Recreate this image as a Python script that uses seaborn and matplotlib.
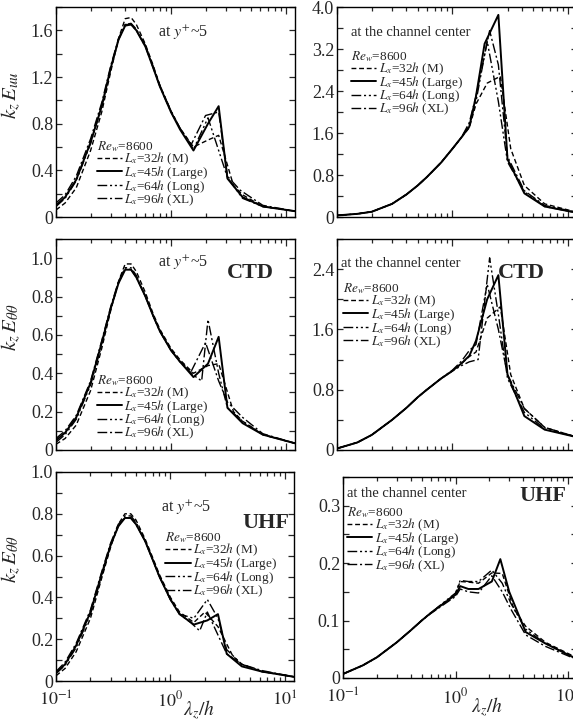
import numpy as np
import pandas as pd
import matplotlib
matplotlib.use("Agg")
import matplotlib.pyplot as plt
import seaborn as sns
from matplotlib.ticker import MultipleLocator, LogLocator, FuncFormatter, NullFormatter, FixedLocator, FixedFormatter

sns.set_theme(style="ticks")
plt.rcParams['font.family'] = ['Liberation Serif', 'DejaVu Serif']
plt.rcParams['mathtext.fontset'] = 'stix'

cases = ["M", "Large", "Long", "XL"]
case_labels = ["$L_x$=32$h$ (M)", "$L_x$=45$h$ (Large)", "$L_x$=64$h$ (Long)", "$L_x$=96$h$ (XL)"]
legend_title = "$Re_w$=8600"

# ---------------- Euu at y+~5 ----------------
euu_w_x_M = [0.1,0.12,0.15,0.2,0.25,0.3,0.35,0.4,0.45,0.5,0.6,0.7,0.8,1.0,1.2,1.57,2.1,2.6,3.5,4.2,6.3,12]
euu_w_y_M = [0.06,0.12,0.25,0.57,0.90,1.25,1.53,1.70,1.71,1.65,1.48,1.30,1.13,0.91,0.76,0.60,0.66,0.70,0.27,0.19,0.09,0.05]
euu_w_x_Large = [0.1,0.12,0.15,0.2,0.25,0.3,0.35,0.4,0.45,0.5,0.6,0.7,0.8,1.0,1.2,1.57,2.1,2.6,3.1,4.2,6.3,12]
euu_w_y_Large = [0.10,0.17,0.32,0.64,0.95,1.28,1.52,1.64,1.65,1.60,1.46,1.28,1.12,0.90,0.75,0.57,0.80,0.95,0.33,0.17,0.09,0.05]
euu_w_x_Long = [0.1,0.12,0.15,0.2,0.25,0.3,0.35,0.4,0.45,0.5,0.6,0.7,0.8,1.0,1.2,1.57,2.1,3.1,4.2,6.3,12]
euu_w_y_Long = [0.09,0.16,0.31,0.63,0.95,1.28,1.52,1.65,1.66,1.61,1.47,1.29,1.13,0.91,0.76,0.58,0.85,0.34,0.16,0.09,0.05]
euu_w_x_XL = [0.1,0.12,0.15,0.2,0.25,0.3,0.35,0.4,0.45,0.5,0.6,0.7,0.8,1.0,1.2,1.5,2.0,2.6,3.1,4.0,6.3,12]
euu_w_y_XL = [0.12,0.19,0.35,0.67,0.98,1.30,1.53,1.65,1.65,1.60,1.46,1.28,1.12,0.90,0.76,0.62,0.87,0.90,0.35,0.23,0.10,0.05]

# ---------------- Euu at channel center ----------------
euu_c_x_M = [0.1,0.15,0.2,0.3,0.4,0.5,0.6,0.8,1.0,1.2,1.4,1.6,2.0,2.6,3.2,4.2,6.3,12]
euu_c_y_M = [0.03,0.06,0.10,0.25,0.43,0.60,0.76,1.04,1.30,1.52,1.70,2.15,2.55,2.68,1.30,0.60,0.25,0.09]
euu_c_x_Large = [0.1,0.15,0.2,0.3,0.4,0.5,0.6,0.8,1.0,1.2,1.4,1.6,1.9,2.5,3.0,4.2,6.3,12]
euu_c_y_Large = [0.03,0.06,0.10,0.25,0.43,0.60,0.76,1.04,1.30,1.52,1.72,2.30,3.30,3.85,1.10,0.45,0.20,0.08]
euu_c_x_Long = [0.1,0.15,0.2,0.3,0.4,0.5,0.6,0.8,1.0,1.2,1.4,1.6,2.0,2.5,3.0,4.2,6.3,12]
euu_c_y_Long = [0.03,0.06,0.10,0.25,0.43,0.60,0.76,1.04,1.30,1.52,1.75,2.20,3.35,2.20,1.05,0.48,0.20,0.08]
euu_c_x_XL = [0.1,0.15,0.2,0.3,0.4,0.5,0.6,0.8,1.0,1.2,1.4,1.6,2.1,2.5,3.0,4.2,6.3,12]
euu_c_y_XL = [0.03,0.06,0.10,0.25,0.43,0.60,0.76,1.04,1.30,1.52,1.80,2.30,3.55,2.90,1.15,0.50,0.22,0.09]

# ---------------- Ett CTD at y+~5 ----------------
ctd_w_x_M = [0.1,0.12,0.15,0.2,0.25,0.3,0.35,0.4,0.45,0.5,0.6,0.7,0.8,1.0,1.2,1.57,2.1,2.6,3.5,4.2,6.3,12]
ctd_w_y_M = [0.03,0.06,0.13,0.31,0.53,0.73,0.88,0.97,0.97,0.93,0.82,0.71,0.63,0.53,0.47,0.40,0.44,0.45,0.20,0.15,0.08,0.035]
ctd_w_x_Large = [0.1,0.12,0.15,0.2,0.25,0.3,0.35,0.4,0.45,0.5,0.6,0.7,0.8,1.0,1.2,1.57,2.1,2.6,3.1,4.2,6.3,12]
ctd_w_y_Large = [0.05,0.09,0.17,0.35,0.56,0.74,0.87,0.94,0.94,0.90,0.80,0.70,0.62,0.52,0.46,0.38,0.45,0.59,0.22,0.14,0.08,0.035]
ctd_w_x_Long = [0.1,0.12,0.15,0.2,0.25,0.3,0.35,0.4,0.45,0.5,0.6,0.7,0.8,1.0,1.2,1.57,1.85,2.1,2.6,3.1,4.2,6.3,12]
ctd_w_y_Long = [0.04,0.08,0.16,0.34,0.55,0.74,0.87,0.95,0.95,0.91,0.80,0.70,0.62,0.52,0.46,0.39,0.36,0.68,0.40,0.22,0.15,0.08,0.035]
ctd_w_x_XL = [0.1,0.12,0.15,0.2,0.25,0.3,0.35,0.4,0.45,0.5,0.6,0.7,0.8,1.0,1.2,1.5,2.0,2.6,3.1,4.2,6.3,12]
ctd_w_y_XL = [0.06,0.10,0.18,0.36,0.57,0.75,0.88,0.95,0.94,0.90,0.80,0.70,0.62,0.52,0.46,0.41,0.56,0.36,0.25,0.17,0.085,0.035]

# ---------------- Ett CTD at channel center ----------------
ctd_c_x_M = [0.1,0.15,0.2,0.3,0.4,0.5,0.6,0.8,1.0,1.2,1.4,1.6,2.0,2.6,3.2,4.2,6.3,12]
ctd_c_y_M = [0.02,0.10,0.20,0.40,0.56,0.70,0.80,0.95,1.05,1.15,1.24,1.30,1.75,1.90,1.00,0.55,0.30,0.17]
ctd_c_x_Large = [0.1,0.15,0.2,0.3,0.4,0.5,0.6,0.8,1.0,1.2,1.4,1.6,2.0,2.5,3.0,4.2,6.3,12]
ctd_c_y_Large = [0.02,0.10,0.20,0.40,0.56,0.70,0.80,0.95,1.05,1.15,1.25,1.45,2.00,2.32,1.00,0.45,0.27,0.17]
ctd_c_x_Long = [0.1,0.15,0.2,0.3,0.4,0.5,0.6,0.8,1.0,1.2,1.4,1.67,2.1,2.5,3.0,4.2,6.3,12]
ctd_c_y_Long = [0.02,0.10,0.20,0.40,0.56,0.70,0.80,0.95,1.05,1.12,1.17,1.20,2.55,1.80,0.95,0.50,0.28,0.17]
ctd_c_x_XL = [0.1,0.15,0.2,0.3,0.4,0.5,0.6,0.8,1.0,1.2,1.4,1.6,2.0,2.5,3.0,4.2,6.3,12]
ctd_c_y_XL = [0.02,0.10,0.20,0.40,0.56,0.70,0.80,0.95,1.06,1.18,1.32,1.40,2.20,1.60,1.00,0.55,0.30,0.17]

# ---------------- Ett UHF at y+~5 ----------------
uhf_w_x_M = [0.1,0.12,0.15,0.2,0.25,0.3,0.35,0.4,0.45,0.5,0.6,0.7,0.8,1.0,1.2,1.6,2.0,2.6,3.5,4.2,6.3,12]
uhf_w_y_M = [0.025,0.06,0.14,0.30,0.49,0.64,0.75,0.80,0.80,0.77,0.68,0.59,0.51,0.40,0.33,0.28,0.33,0.26,0.12,0.08,0.045,0.02]
uhf_w_x_Large = [0.1,0.12,0.15,0.2,0.25,0.3,0.35,0.4,0.45,0.5,0.6,0.7,0.8,1.0,1.2,1.6,2.1,2.6,3.1,4.2,6.3,12]
uhf_w_y_Large = [0.04,0.08,0.17,0.33,0.51,0.65,0.74,0.78,0.78,0.75,0.67,0.58,0.50,0.39,0.32,0.27,0.29,0.32,0.13,0.07,0.045,0.02]
uhf_w_x_Long = [0.1,0.12,0.15,0.2,0.25,0.3,0.35,0.4,0.45,0.5,0.6,0.7,0.8,1.0,1.2,1.6,2.1,2.6,3.1,4.2,6.3,12]
uhf_w_y_Long = [0.035,0.075,0.16,0.32,0.50,0.65,0.74,0.79,0.79,0.76,0.67,0.58,0.50,0.39,0.32,0.30,0.39,0.30,0.15,0.08,0.045,0.02]
uhf_w_x_XL = [0.1,0.12,0.15,0.2,0.25,0.3,0.35,0.4,0.45,0.5,0.6,0.7,0.8,1.0,1.2,1.5,1.8,2.1,2.6,3.1,4.2,6.3,12]
uhf_w_y_XL = [0.045,0.09,0.18,0.34,0.52,0.66,0.75,0.78,0.78,0.75,0.67,0.58,0.50,0.39,0.32,0.28,0.24,0.33,0.22,0.13,0.08,0.05,0.02]

# ---------------- Ett UHF at channel center ----------------
uhf_c_x_M = [0.1,0.15,0.2,0.3,0.4,0.5,0.6,0.8,1.0,1.1,1.3,1.6,2.1,2.6,3.3,4.2,6.3,12]
uhf_c_y_M = [0.007,0.022,0.036,0.062,0.083,0.100,0.113,0.132,0.147,0.168,0.167,0.165,0.183,0.182,0.120,0.090,0.062,0.035]
uhf_c_x_Large = [0.1,0.15,0.2,0.3,0.4,0.5,0.6,0.8,1.0,1.1,1.3,1.6,2.1,2.5,3.0,4.2,6.3,12]
uhf_c_y_Large = [0.007,0.022,0.036,0.062,0.083,0.100,0.113,0.131,0.145,0.160,0.155,0.155,0.168,0.207,0.150,0.080,0.060,0.033]
uhf_c_x_Long = [0.1,0.15,0.2,0.3,0.4,0.5,0.6,0.8,1.0,1.1,1.3,1.6,2.1,2.6,3.1,4.2,6.3,12]
uhf_c_y_Long = [0.007,0.022,0.036,0.062,0.083,0.100,0.113,0.133,0.148,0.170,0.168,0.168,0.188,0.165,0.130,0.085,0.060,0.033]
uhf_c_x_XL = [0.1,0.15,0.2,0.3,0.4,0.5,0.6,0.8,1.0,1.1,1.3,1.6,2.1,2.6,3.1,4.2,6.3,12]
uhf_c_y_XL = [0.007,0.022,0.036,0.062,0.083,0.100,0.112,0.129,0.142,0.155,0.150,0.148,0.178,0.150,0.120,0.075,0.055,0.032]

panel_data = {
    "euu_w": [(euu_w_x_M, euu_w_y_M), (euu_w_x_Large, euu_w_y_Large), (euu_w_x_Long, euu_w_y_Long), (euu_w_x_XL, euu_w_y_XL)],
    "euu_c": [(euu_c_x_M, euu_c_y_M), (euu_c_x_Large, euu_c_y_Large), (euu_c_x_Long, euu_c_y_Long), (euu_c_x_XL, euu_c_y_XL)],
    "ctd_w": [(ctd_w_x_M, ctd_w_y_M), (ctd_w_x_Large, ctd_w_y_Large), (ctd_w_x_Long, ctd_w_y_Long), (ctd_w_x_XL, ctd_w_y_XL)],
    "ctd_c": [(ctd_c_x_M, ctd_c_y_M), (ctd_c_x_Large, ctd_c_y_Large), (ctd_c_x_Long, ctd_c_y_Long), (ctd_c_x_XL, ctd_c_y_XL)],
    "uhf_w": [(uhf_w_x_M, uhf_w_y_M), (uhf_w_x_Large, uhf_w_y_Large), (uhf_w_x_Long, uhf_w_y_Long), (uhf_w_x_XL, uhf_w_y_XL)],
    "uhf_c": [(uhf_c_x_M, uhf_c_y_M), (uhf_c_x_Large, uhf_c_y_Large), (uhf_c_x_Long, uhf_c_y_Long), (uhf_c_x_XL, uhf_c_y_XL)],
}

line_styles = {"M": (0, (3.5, 2.0)), "Large": "-", "Long": (0, (7, 2, 1.5, 2, 1.5, 2)), "XL": (0, (7, 2, 1.5, 2))}
line_widths = {"M": 1.0, "Large": 1.4, "Long": 1.0, "XL": 1.0}

fig = plt.figure(figsize=(5.73, 7.20), dpi=100)
W, H = 573.0, 720.0

def axrect(x0, x1, y0, y1):
    return [x0 / W, 1 - y1 / H, (x1 - x0) / W, (y1 - y0) / H]

panels = [
    dict(key="euu_w", rect=axrect(56, 295, 7, 217), ylim=1.8, major=0.4, minor=0.2,
         ylabel=r"$k_z\,E_{uu}$", loc="at $y^{+}$~5", locxy=(0.427, 0.876), tag=None,
         legxy=(0.17, 0.37), bottom=False),
    dict(key="euu_c", rect=axrect(337, 577, 7, 217), ylim=4.0, major=0.8, minor=0.4,
         ylabel=None, loc="at the channel center", locxy=(0.058, 0.88), tag=None,
         legxy=(0.058, 0.80), bottom=False),
    dict(key="ctd_w", rect=axrect(56, 295, 239, 450), ylim=1.1, major=0.2, minor=0.1,
         ylabel=r"$k_z\,E_{\theta\theta}$", loc="at $y^{+}$~5", locxy=(0.427, 0.886), tag=("CTD", 0.715, 0.84),
         legxy=(0.17, 0.365), bottom=False),
    dict(key="ctd_c", rect=axrect(337, 577, 239, 450), ylim=2.8, major=0.8, minor=0.4,
         ylabel=None, loc="at the channel center", locxy=(0.017, 0.886), tag=("CTD", 0.67, 0.84),
         legxy=(0.025, 0.8), bottom=False),
    dict(key="uhf_w", rect=axrect(56, 294, 472, 681), ylim=1.0, major=0.2, minor=0.1,
         ylabel=r"$k_z\,E_{\theta\theta}$", loc="at $y^{+}$~5", locxy=(0.44, 0.83), tag=("UHF", 0.785, 0.756),
         legxy=(0.46, 0.72), bottom=True),
    dict(key="uhf_c", rect=axrect(343, 577, 477, 678), ylim=0.35, major=0.1, minor=0.05,
         ylabel=None, loc="at the channel center", locxy=(0.017, 0.92), tag=("UHF", 0.756, 0.905),
         legxy=(0.017, 0.86), bottom=True),
]

yfmt = FuncFormatter(lambda v, p: "0" if abs(v) < 1e-9 else f"{v:.1f}")

for i, P in enumerate(panels):
    ax = fig.add_axes(P["rect"])
    handles = []
    for case, (xs, ys) in zip(cases, panel_data[P["key"]]):
        df = pd.DataFrame({"x": xs, "y": ys})
        sns.lineplot(data=df, x="x", y="y", ax=ax, color="black", linestyle=line_styles[case],
                     linewidth=line_widths[case], legend=False, estimator=None)
        handles.append(ax.lines[-1])
    ax.set_xscale("log")
    ax.set_xlim(0.1, 12)
    ax.set_ylim(0, P["ylim"])
    ax.yaxis.set_major_locator(MultipleLocator(P["major"]))
    ax.yaxis.set_minor_locator(MultipleLocator(P["minor"]))
    ax.yaxis.set_major_formatter(yfmt)
    ax.xaxis.set_major_locator(FixedLocator([0.1, 1, 10]))
    ax.xaxis.set_minor_locator(LogLocator(base=10, subs=np.arange(2, 10)))
    ax.xaxis.set_minor_formatter(NullFormatter())
    ax.tick_params(which="both", direction="in", top=True, right=True, labelsize=13, width=0.9, pad=2)
    ax.tick_params(axis="x", which="major", length=5, pad=7)
    ax.tick_params(axis="x", which="minor", length=3)
    ax.tick_params(axis="y", which="both", length=4)
    if P["bottom"]:
        ax.xaxis.set_major_formatter(FixedFormatter(["$10^{-1}$", "$10^{0}$", "$10^{1}$"]))
        ax.set_xlabel(r"$\lambda_z/h$", fontsize=14)
        ax.xaxis.set_label_coords(0.6 if i == 4 else 0.615, -0.085)
    else:
        ax.xaxis.set_major_formatter(NullFormatter())
        ax.set_xlabel("")
    for s in ax.spines.values():
        s.set_linewidth(1.0)
        s.set_color("black")
    if P["ylabel"]:
        ax.set_ylabel(P["ylabel"], fontsize=15)
        ax.yaxis.set_label_coords(-0.14, 0.58)
    else:
        ax.set_ylabel("")
    ax.text(P["locxy"][0], P["locxy"][1], P["loc"], transform=ax.transAxes,
            fontsize=11.5 if "y^" in P["loc"] else 10.5, ha="left", va="center")
    if P["tag"]:
        ax.text(P["tag"][1], P["tag"][2], P["tag"][0], transform=ax.transAxes, fontsize=16,
                fontweight="bold", ha="left", va="center")
    ax.legend(handles, case_labels, title=legend_title, loc="upper left",
              bbox_to_anchor=P["legxy"], frameon=False, fontsize=9.5, title_fontsize=9.5,
              handlelength=1.9, handletextpad=0.2, labelspacing=-0.25, borderpad=0,
              borderaxespad=0, alignment="left")

fig.savefig("out.png", dpi=100)
